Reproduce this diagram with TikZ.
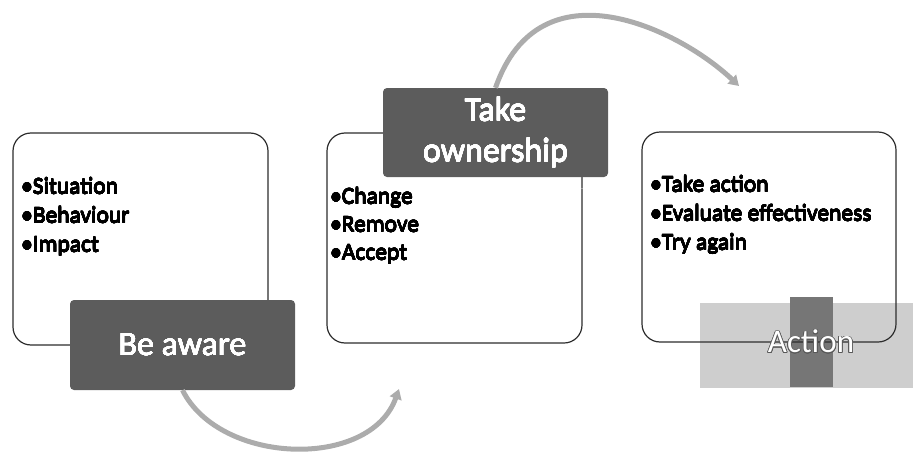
\documentclass[tikz,border=0pt]{standalone}
\usepackage{fontspec}
\setmainfont{Carlito}
\usepackage{contour}
\usetikzlibrary{arrows.meta}
\definecolor{boxdark}{RGB}{92,92,92}
\definecolor{barmid}{RGB}{118,118,118}
\definecolor{panelline}{RGB}{45,45,45}
\definecolor{arrowgray}{RGB}{172,172,172}
\definecolor{lightband}{RGB}{206,206,206}
% slightly heavier strokes for the printed look of the text
\newcommand{\heavy}[2]{{\contourlength{0.2pt}\contour{#1}{\textcolor{#1}{#2}}}}
\tikzset{
  panel/.style={draw=panelline, line width=1.2pt, rounded corners=18pt, inner sep=0pt},
  headbox/.style={fill=boxdark, rounded corners=4pt, text=white, font=\fontsize{34}{38}\selectfont,
    align=center, inner sep=0pt},
  item/.style={anchor=base west, inner sep=0pt, font=\fontsize{23.5}{27}\selectfont},
  flow/.style={draw=arrowgray, line width=5pt, -{Triangle[width=12pt,length=10pt]}},
  gloss/.style={draw=white, opacity=0.35, line width=0.8pt}
}
\begin{document}
\begin{tikzpicture}[x=1pt,y=-1pt]
\useasboundingbox (0,0) rectangle (913,455);

% outlined panels holding the bullet lists
\node[panel, minimum width=255pt, minimum height=212pt] (p1) at (140.5,239) {};
\node[panel, minimum width=255pt, minimum height=210pt] (p2) at (454.5,238) {};

% grey band and bar behind the last heading
\node[fill=lightband, inner sep=0pt, minimum width=213pt, minimum height=85pt] (band) at (806.5,345.5) {};
\node[fill=barmid, inner sep=0pt, minimum width=43pt, minimum height=90pt] (bar) at (811.5,342) {};
\draw[gloss] ([yshift=-9pt]bar.south west) -- ([yshift=-9pt]bar.south east);
\node[panel, minimum width=254pt, minimum height=210pt] (p3) at (769,237) {};

% bullet lists
\node[item] (s1) at (21,194) {\heavy{black}{•Situation}};
\node[item] (s2) at (21,223) {\heavy{black}{•Behaviour}};
\node[item] (s3) at (21,252) {\heavy{black}{•Impact}};

\node[item] (c1) at (330,204) {\heavy{black}{•Change}};
\node[item] (c2) at (330,232) {\heavy{black}{•Remove}};
\node[item] (c3) at (330,260) {\heavy{black}{•Accept}};

\node[item] (a1) at (650,192) {\heavy{black}{•Take action}};
\node[item] (a2) at (650,221) {\heavy{black}{•Evaluate effectiveness}};
\node[item] (a3) at (650,250) {\heavy{black}{•Try again}};

% dark heading boxes
\node[headbox, minimum width=225pt, minimum height=90pt] (aware) at (182.5,345) {\heavy{white}{Be aware}};
\draw[gloss] ([yshift=-12pt]aware.south west) -- ([yshift=-12pt]aware.south east);
\node[headbox, minimum width=225pt, minimum height=89pt, font=\fontsize{34}{41}\selectfont] (own) at (495.5,132.5)
  {\heavy{white}{Take}\\\heavy{white}{ownership}};
\draw[gloss] ([yshift=-11pt]own.south west) -- ([yshift=-11pt]own.south east);

\node[inner sep=0pt, font=\fontsize{33}{38}\selectfont] (act) at (811,342)
  {{\contourlength{0.7pt}\contour{black!65}{\textcolor{white}{Action}}}};

% curved arrows between the stages
\coordinate (t1) at (399,389);
\coordinate (t2) at (739,86);
\draw[flow] (aware.south) .. controls (220,465) and (370,470) .. (t1);
\draw[flow] (own.north) .. controls (540,-40) and (680,30) .. (t2);
\end{tikzpicture}
\end{document}
